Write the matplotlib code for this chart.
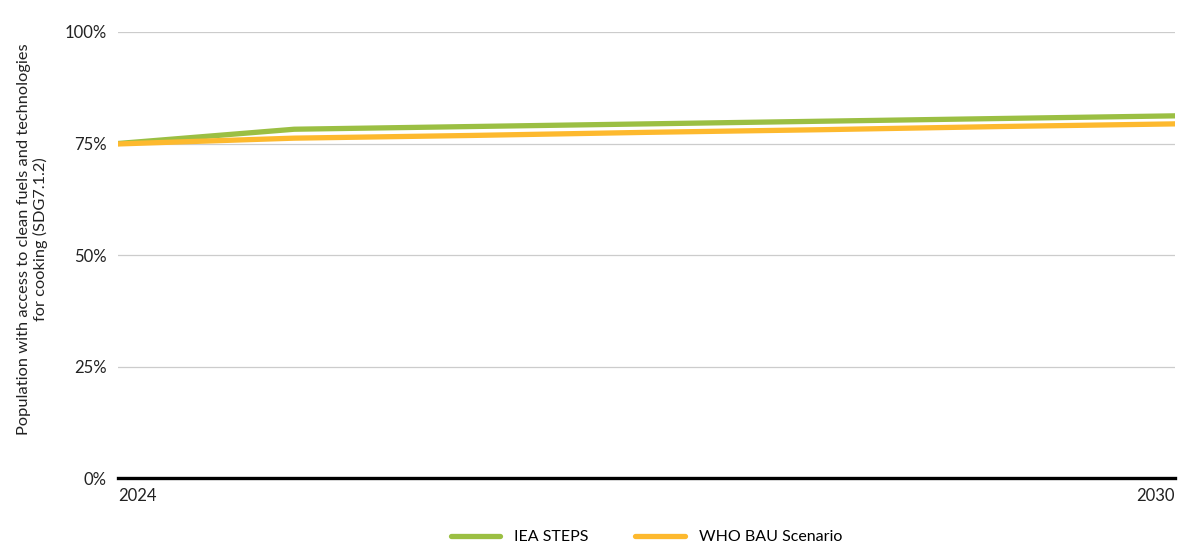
import matplotlib.pyplot as plt
from matplotlib.ticker import FuncFormatter

plt.rcParams['font.family'] = ['Lato', 'DejaVu Sans']

years = [2024, 2025, 2026, 2027, 2028, 2029, 2030]
iea_steps = [75.0, 78.2, 78.8, 79.4, 80.0, 80.6, 81.2]
who_bau = [74.9, 76.2, 76.8, 77.5, 78.1, 78.8, 79.4]

green = '#9bbf43'
orange = '#fdb92e'

fig = plt.figure(figsize=(11.9, 5.46), dpi=100)
ax = fig.add_axes([0.0992, 0.1245, 0.8882, 0.8169])

ax.plot(years, iea_steps, color=green, lw=3.8, solid_capstyle='round', label='IEA STEPS', zorder=3)
ax.plot(years, who_bau, color=orange, lw=3.8, solid_capstyle='round', label='WHO BAU Scenario', zorder=4)

ax.set_xlim(2024, 2030)
ax.set_ylim(0, 100)
ax.set_yticks([0, 25, 50, 75, 100])
ax.yaxis.set_major_formatter(FuncFormatter(lambda v, p: '%d%%' % v))
ax.grid(axis='y', color='#cccccc', lw=0.9)
ax.axhline(0, color='black', lw=2.4, zorder=5, clip_on=False)
for s in ax.spines.values():
    s.set_visible(False)
ax.tick_params(axis='y', length=0, pad=8, labelsize=12, colors='#222222')
ax.tick_params(axis='x', length=0, pad=7, labelsize=12, colors='#222222')
ax.set_xticks([2024, 2030])
ax.set_xticklabels(['2024', '2030'])
labs = ax.get_xticklabels()
labs[0].set_ha('left')
labs[1].set_ha('right')

ax.set_ylabel('Population with access to clean fuels and technologies\nfor cooking (SDG7.1.2)',
              fontsize=11.8, color='#222222')
ax.yaxis.set_label_coords(-0.066, 0.535)

ax.legend(loc='upper center', bbox_to_anchor=(0.5, -0.085), ncol=2, frameon=False,
          fontsize=11.5, handlelength=3.1, columnspacing=2.9, handletextpad=0.9)

fig.savefig('out.png', dpi=100)
